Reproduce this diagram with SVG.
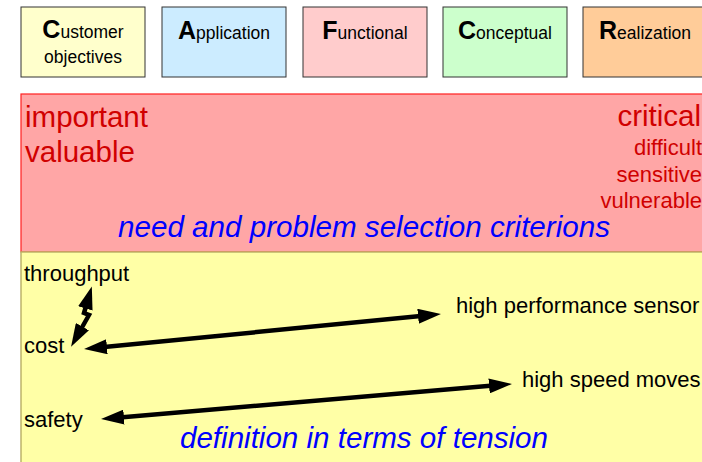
<svg xmlns="http://www.w3.org/2000/svg" width="702" height="462" viewBox="0 0 702 462">
<style>
.box{stroke:#333;stroke-width:1}
.bt{font-family:"Liberation Sans",Arial,sans-serif;font-size:17.5px;fill:#000;text-anchor:middle}
.cap{font-size:25px;font-weight:bold}
.red{font-family:"Liberation Sans",Arial,sans-serif;fill:#D00000}
.big{font-size:29.5px}
.sm{font-size:22px}
.blk{font-family:"Liberation Sans",Arial,sans-serif;font-size:22px;fill:#000}
.blue{font-family:"Liberation Sans",Arial,sans-serif;font-size:29px;font-style:italic;fill:#0000FF}
.arr{fill:none;stroke:#000;stroke-width:4.5;stroke-linejoin:miter}
</style>
<defs>
<marker id="ah" markerUnits="userSpaceOnUse" viewBox="0 0 23 15" markerWidth="23" markerHeight="15" refX="13" refY="7.5" orient="auto-start-reverse">
<path d="M0,0 L23,7.5 L0,15 z" fill="#000"/>
</marker>
</defs>
<rect width="702" height="462" fill="#fff"/>
<g id="customer"><rect class="box" x="21" y="7" width="124" height="70" fill="#FFFFCC"/><text class="bt" x="83" y="38"><tspan class="cap">C</tspan>ustomer</text><text class="bt" x="83" y="63">objectives</text></g>
<g id="application"><rect class="box" x="162" y="7" width="124" height="70" fill="#CCECFF"/><text class="bt" x="224" y="39"><tspan class="cap">A</tspan>pplication</text></g>
<g id="functional"><rect class="box" x="303" y="7" width="124" height="70" fill="#FFCCCC"/><text class="bt" x="365" y="39"><tspan class="cap">F</tspan>unctional</text></g>
<g id="conceptual"><rect class="box" x="443" y="7" width="124" height="70" fill="#CCFFCC"/><text class="bt" x="505" y="39"><tspan class="cap">C</tspan>onceptual</text></g>
<g id="realization"><rect class="box" x="583" y="7" width="124" height="70" fill="#FFCC99"/><text class="bt" x="645" y="39"><tspan class="cap">R</tspan>ealization</text></g>
<g id="criteria">
<rect x="21" y="94" width="690" height="158" fill="#FFA6A6" stroke="#FF2020" stroke-width="1.2"/>
<text class="red big" x="25" y="127">important</text>
<text class="red big" x="25" y="162">valuable</text>
<text class="red big" x="701" y="126" text-anchor="end">critical</text>
<text class="red sm" x="702" y="155" text-anchor="end">difficult</text>
<text class="red sm" x="702" y="182" text-anchor="end">sensitive</text>
<text class="red sm" x="702" y="208" text-anchor="end">vulnerable</text>
<text class="blue" x="118" y="237" textLength="492" lengthAdjust="spacingAndGlyphs">need and problem selection criterions</text>
</g>
<g id="tension">
<rect x="21" y="252" width="690" height="220" fill="#FFFFA6" stroke="#BDB46A" stroke-width="1.5"/>
<text class="blk" x="24" y="281">throughput</text>
<text class="blk" x="24" y="353">cost</text>
<text class="blk" x="24" y="427">safety</text>
<text class="blk" x="456" y="313">high performance sensor</text>
<text class="blk" x="522" y="387">high speed moves</text>
<text class="blue" x="180" y="448" textLength="368" lengthAdjust="spacingAndGlyphs">definition in terms of tension</text>
</g>
<g id="connectors">
<path class="arr" d="M89,296 L84,313 L89,315 L76,338" stroke-width="5.5" marker-start="url(#ah)" marker-end="url(#ah)"/>
<path class="arr" d="M94,348 L431,315" marker-start="url(#ah)" marker-end="url(#ah)"/>
<path class="arr" d="M111,418.2 L502,384.8" marker-start="url(#ah)" marker-end="url(#ah)"/>
</g>
</svg>
